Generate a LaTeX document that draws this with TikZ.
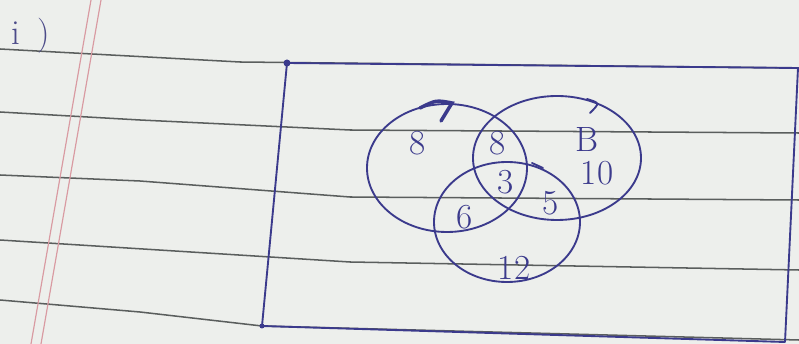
\documentclass[tikz,border=0pt]{standalone}
\usetikzlibrary{positioning}
\definecolor{pen}{HTML}{3B3A8C}
\definecolor{paper}{HTML}{EDEFEC}
\definecolor{rule}{HTML}{5A5E5D}
\definecolor{margin}{HTML}{D99AA2}
\tikzset{
  ink/.style={draw=pen, line width=1.6pt, line cap=round, line join=round},
  ruled/.style={draw=rule, line width=1.3pt},
  marg/.style={draw=margin, line width=1pt},
  num/.style={text=pen, font=\fontsize{30}{32}\selectfont, inner sep=0pt},
}
\begin{document}
\begin{tikzpicture}[x=0.03cm, y=-0.03cm]
  \fill[paper] (0,0) rectangle (799,344);
  \useasboundingbox (0,0) rectangle (799,344);
  % ruled paper
  \draw[ruled] (0,49) -- (240,62) -- (799,68);
  \draw[ruled] (0,112) -- (140,120) -- (350,130) -- (799,133);
  \draw[ruled] (0,175) -- (140,181) -- (350,197) -- (799,200);
  \draw[ruled] (0,240) -- (350,262) -- (799,270);
  \draw[ruled] (0,300) -- (140,312) -- (262,326) -- (799,340);
  \draw[marg] (91,0) -- (31,344);
  \draw[marg] (101,0) -- (41,344);
  \node[text=pen!75!gray, font=\fontsize{30}{32}\selectfont] (part) at (31,36) {i\hspace{0.5em})};
  % universal set
  \coordinate (tl) at (287,63);
  \coordinate (tr) at (798,68);
  \coordinate (br) at (785,342);
  \coordinate (bl) at (262,326);
  \draw[ink] (tl) -- (tr) -- (br) -- (bl) -- cycle;
  \fill[pen] (tl) circle (3.5) (bl) circle (2.5);
  % three sets
  \draw[ink] (447,168) ellipse [x radius=80, y radius=64];
  \draw[ink] (557,158) ellipse [x radius=84, y radius=62];
  \draw[ink] (507,222) ellipse [x radius=73, y radius=60];
  \draw[pen, line width=3pt, line cap=round] (420,108) .. controls (436,100) .. (452,103) -- (441,121);
  \draw[ink] (587,99) .. controls (600,103) .. (590,113);
  \draw[ink] (532,163) -- (543,168);
  % region values
  \node[num] (onlyA) at (418,143) {8};
  \node[num] (ab) at (498,143) {8};
  \node[num] (lblB) at (587,140) {B};
  \node[num] (onlyB) at (597,173) {10};
  \node[num] (abc) at (506,182) {3};
  \node[num] (bc) at (551,203) {5};
  \node[num] (ac) at (465,217) {6};
  \node[num] (onlyC) at (514,268) {12};
\end{tikzpicture}
\end{document}
